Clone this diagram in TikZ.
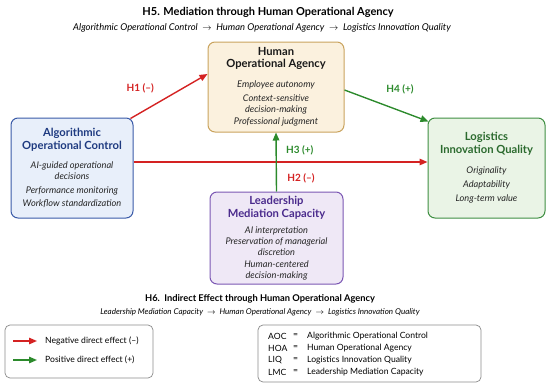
\documentclass[tikz,border=0pt]{standalone}
\usepackage{fontspec}
\setmainfont{Lato}
\usetikzlibrary{arrows.meta, positioning}

\definecolor{negred}{HTML}{D42222}
\definecolor{posgreen}{HTML}{2C8A2C}
\definecolor{aocfill}{HTML}{E8EFFA}
\definecolor{aocdraw}{HTML}{3A5BA8}
\definecolor{aoctext}{HTML}{1E3A80}
\definecolor{hoafill}{HTML}{FBF1DE}
\definecolor{hoadraw}{HTML}{C9A35E}
\definecolor{liqfill}{HTML}{EAF4E6}
\definecolor{liqdraw}{HTML}{3F8F42}
\definecolor{liqtext}{HTML}{2B6A2E}
\definecolor{lmcfill}{HTML}{EFE8F6}
\definecolor{lmcdraw}{HTML}{7B57B3}
\definecolor{lmctext}{HTML}{4A2A8C}
\definecolor{legdraw}{HTML}{8A8A8A}

\newcommand{\boxtitle}[2]{{\fontsize{11.2}{12}\selectfont\bfseries\color{#1}#2}}
\newcommand{\itm}[1]{{\itshape #1}}
\newcommand{\pathto}{\enspace$\rightarrow$\enspace}

\begin{document}
\begin{tikzpicture}[x=1pt, y=-1pt,
  box/.style={draw, rounded corners=7pt, line width=1pt, align=center,
    inner sep=2pt, font=\fontsize{9.2}{11}\selectfont, text=black!85},
  effect/.style={line width=1.4pt, -{Triangle[length=8pt, width=6.5pt]}},
  lbl/.style={font=\fontsize{10}{12}\selectfont\bfseries},
  legbox/.style={draw=legdraw, rounded corners=5pt, line width=0.7pt},
  legtext/.style={font=\fontsize{8.6}{10}\selectfont, anchor=west, inner sep=0pt}
]
\useasboundingbox (0,0) rectangle (550,391);

% Titles
\node[font=\fontsize{11}{13}\selectfont\bfseries] (h5) at (268,12)
  {H5. Mediation through Human Operational Agency};
\node[font=\fontsize{9.4}{11}\selectfont\itshape] (h5sub) at (262,28)
  {Algorithmic Operational Control\pathto Human Operational Agency\pathto Logistics Innovation Quality};

% Constructs
\node[box, draw=aocdraw, fill=aocfill, minimum width=122pt, minimum height=100pt] (aoc) at (72,168)
  {\boxtitle{aoctext}{Algorithmic}\\[2pt]\boxtitle{aoctext}{Operational Control}\\[8pt]
   \itm{AI-guided operational}\\\itm{decisions}\\[3pt]\itm{Performance monitoring}\\[2pt]\itm{Workflow standardization}};
\node[box, draw=hoadraw, fill=hoafill, minimum width=136pt, minimum height=90pt] (hoa) at (276,87)
  {\boxtitle{black!90}{Human}\\[1pt]\boxtitle{black!90}{Operational Agency}\\[9pt]
   \itm{Employee autonomy}\\[3pt]\itm{Context-sensitive}\\\itm{decision-making}\\[1pt]\itm{Professional judgment}};
\node[box, draw=liqdraw, fill=liqfill, minimum width=117pt, minimum height=100pt] (liq) at (486.5,168)
  {\boxtitle{liqtext}{Logistics}\\[2pt]\boxtitle{liqtext}{Innovation Quality}\\[9pt]
   \itm{Originality}\\[3pt]\itm{Adaptability}\\[3pt]\itm{Long-term value}};
\node[box, draw=lmcdraw, fill=lmcfill, minimum width=133pt, minimum height=92pt] (lmc) at (276.5,238)
  {\boxtitle{lmctext}{Leadership}\\[2pt]\boxtitle{lmctext}{Mediation Capacity}\\[5pt]
   \itm{AI interpretation}\\\itm{Preservation of managerial}\\\itm{discretion}\\[1pt]\itm{Human-centered}\\\itm{decision-making}};

% Paths
\draw[effect, negred] ([xshift=-3pt, yshift=-1pt]aoc.north east) -- ([yshift=13pt]hoa.west)
  node[lbl, pos=0.2, above left=12pt and -12pt] {H1 (--)};
\draw[effect, posgreen] ([yshift=-3pt]hoa.east) -- ([xshift=1pt, yshift=-4pt]liq.north west)
  node[lbl, pos=0.45, above right=6pt and 0pt] {H4 (+)};
\draw[effect, negred] ([yshift=6pt]aoc.east) -- ([yshift=6pt]liq.west)
  node[lbl, pos=0.57, below=8pt] {H2 (--)};
\draw[effect, posgreen] (lmc.north) -- (hoa.south)
  node[lbl, pos=0.7, right=6pt] {H3 (+)};

% H6
\node[font=\fontsize{9.3}{11}\selectfont\bfseries] (h6) at (260,299)
  {H6.\ \ Indirect Effect through Human Operational Agency};
\node[font=\fontsize{8}{9}\selectfont\itshape] (h6sub) at (260,312)
  {Leadership Mediation Capacity\pathto Human Operational Agency\pathto Logistics Innovation Quality};

% Legend
\draw[legbox] (5,325) rectangle (153,378);
\coordinate (negA) at (13,341);
\coordinate (negB) at (37,341);
\coordinate (posA) at (13,360);
\coordinate (posB) at (37,360);
\draw[effect, negred] (negA) -- (negB);
\draw[effect, posgreen] (posA) -- (posB);
\node[legtext] (negtxt) at (45,341) {Negative direct effect (--)};
\node[legtext] (postxt) at (45,360) {Positive direct effect (+)};

% Abbreviations
\draw[legbox] (258,325) rectangle (481,382);
\foreach \abbr/\full [count=\i] in {AOC/Algorithmic Operational Control, HOA/Human Operational Agency,
    LIQ/Logistics Innovation Quality, LMC/Leadership Mediation Capacity} {
  \node[legtext] (ab\i) at (268,{324+12*\i}) {\abbr};
  \node[legtext] (eq\i) at (293,{324+12*\i}) {=};
  \node[legtext] (df\i) at (307,{324+12*\i}) {\full};
}

\end{tikzpicture}
\end{document}
